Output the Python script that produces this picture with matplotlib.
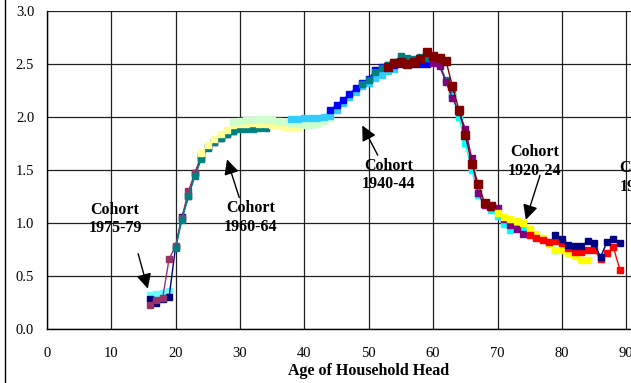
import matplotlib
matplotlib.use("Agg")
import matplotlib.pyplot as plt
from matplotlib.lines import Line2D
from matplotlib.ticker import FormatStrFormatter

plt.rcParams['font.family'] = ['Liberation Serif', 'DejaVu Serif']

# household size by age of head, one series per birth cohort
ages_a = list(range(16, 20))
vals_a = [0.32, 0.33, 0.34, 0.36]

ages_b = list(range(16, 30))
vals_b = [0.28, 0.25, 0.28, 0.30, 0.77, 1.06, 1.25, 1.47, 1.61, 1.72, 1.76, 1.80, 1.84, 1.87]

ages_c = list(range(16, 25))
vals_c = [0.23, 0.27, 0.29, 0.66, 0.78, 1.05, 1.30, 1.47, 1.64]

ages_d = list(range(20, 35))
vals_d = [0.76, 1.03, 1.25, 1.44, 1.60, 1.71, 1.76, 1.80, 1.84, 1.87, 1.89, 1.89, 1.89, 1.90, 1.90]

ages_e = list(range(24, 40))
vals_e = [1.66, 1.74, 1.79, 1.84, 1.88, 1.92, 1.93, 1.93, 1.94, 1.93, 1.93, 1.92, 1.92, 1.91, 1.90, 1.90]

ages_f = list(range(29, 45))
vals_f = [1.95, 1.96, 1.97, 1.97, 1.98, 1.98, 1.97, 1.96, 1.95, 1.94, 1.93, 1.92, 1.92, 1.93, 1.96, 1.99]

ages_g = list(range(38, 55))
vals_g = [1.98, 1.98, 1.99, 1.99, 1.99, 2.00, 2.01, 2.07, 2.13, 2.19, 2.24, 2.29, 2.32, 2.37, 2.40, 2.43, 2.45]

ages_h = list(range(44, 60))
vals_h = [2.07, 2.11, 2.16, 2.22, 2.27, 2.32, 2.36, 2.44, 2.47, 2.49, 2.49, 2.50, 2.50, 2.50, 2.50, 2.50]

ages_i = list(range(49, 65))
vals_i = [2.31, 2.35, 2.42, 2.46, 2.49, 2.52, 2.58, 2.56, 2.55, 2.57, 2.56, 2.54, 2.50, 2.35, 2.22, 2.01]

ages_j = list(range(63, 80))
vals_j = [2.20, 2.00, 1.75, 1.50, 1.26, 1.17, 1.12, 1.07, 0.99, 0.93, 0.98, 0.95, 0.90, 0.88, 0.85, 0.81, 0.75]

ages_k = list(range(60, 75))
vals_k = [2.51, 2.48, 2.33, 2.18, 2.05, 1.89, 1.61, 1.28, 1.17, 1.15, 1.14, 1.04, 0.98, 0.94, 0.90]

ages_l = list(range(53, 70))
vals_l = [2.47, 2.51, 2.52, 2.50, 2.52, 2.55, 2.61, 2.58, 2.56, 2.53, 2.29, 2.07, 1.83, 1.56, 1.37, 1.19, 1.16]

ages_m = list(range(70, 85))
vals_m = [1.09, 1.06, 1.04, 1.02, 1.00, 0.94, 0.90, 0.86, 0.80, 0.75, 0.75, 0.72, 0.69, 0.65, 0.65]

ages_n = list(range(75, 90))
vals_n = [0.89, 0.86, 0.84, 0.82, 0.83, 0.81, 0.76, 0.73, 0.73, 0.75, 0.75, 0.66, 0.72, 0.77, 0.56]

ages_o = list(range(79, 90))
vals_o = [0.89, 0.85, 0.79, 0.78, 0.78, 0.83, 0.81, 0.68, 0.82, 0.85, 0.81]

series = [
    (ages_a, vals_a, '#66FFFF', 4.0),
    (ages_b, vals_b, '#000080', 4.0),
    (ages_c, vals_c, '#993366', 4.0),
    (ages_d, vals_d, '#008080', 4.0),
    (ages_e, vals_e, '#FFFF99', 4.0),
    (ages_f, vals_f, '#CCFFCC', 4.0),
    (ages_g, vals_g, '#33CCFF', 4.0),
    (ages_h, vals_h, '#0000FF', 4.0),
    (ages_i, vals_i, '#008080', 4.5),
    (ages_j, vals_j, '#00FFFF', 4.0),
    (ages_k, vals_k, '#800080', 4.0),
    (ages_l, vals_l, '#800000', 5.5),
    (ages_m, vals_m, '#FFFF00', 4.0),
    (ages_n, vals_n, '#FF0000', 4.0),
    (ages_o, vals_o, '#000080', 4.0),
]

fig = plt.figure(figsize=(6.31, 3.83), dpi=100)
ax = fig.add_axes([46.7 / 631, 54 / 383, 644 / 631, 318 / 383])

for x, y, c, ms in series:
    ax.plot(x, y, color=c, lw=1.0, marker='s', ms=ms, mec=c, mfc=c)

ax.set_xlim(0, 100)
ax.set_ylim(0, 3.0)
ax.set_xticks(range(0, 101, 10))
ax.set_yticks([0, 0.5, 1.0, 1.5, 2.0, 2.5, 3.0])
ax.yaxis.set_major_formatter(FormatStrFormatter('%.1f'))
ax.grid(True, color='#202020', lw=0.9)
ax.set_axisbelow(True)
ax.tick_params(length=0, labelsize=10.5)
ax.tick_params(axis='x', pad=13)
ax.tick_params(axis='y', pad=9)
for s in ['top', 'right']:
    ax.spines[s].set_visible(False)
for s in ['left', 'bottom']:
    ax.spines[s].set_color('black')
    ax.spines[s].set_linewidth(1.0)

ax.set_xlabel('Age of Household Head', fontsize=11.5, fontweight='bold', labelpad=2)

arrow = dict(arrowstyle='-|>,head_length=0.9,head_width=0.45', color='black', lw=1.0,
             shrinkA=0, shrinkB=0)
labels = [
    ('Cohort\n1975-79', (10.6, 1.04), (14.2, 0.71), (15.7, 0.38)),
    ('Cohort\n1960-64', (31.6, 1.05), (29.9, 1.24), (28.0, 1.60)),
    ('Cohort\n1940-44', (53.1, 1.45), (51.4, 1.64), (49.0, 1.92)),
    ('Cohort\n1920-24', (75.8, 1.58), (76.6, 1.45), (74.4, 1.03)),
]
for txt, pos, tail, tip in labels:
    ax.text(pos[0], pos[1], txt, ha='center', va='center', fontsize=11.5,
            fontweight='bold', linespacing=1.2)
    ax.annotate('', xy=tip, xytext=tail, arrowprops=arrow)

# next cohort label runs past the right edge of the figure
ax.text(88.9, 1.43, 'Cohort\n1910-14', ha='left', va='center', fontsize=11.5,
        fontweight='bold', linespacing=1.2)

fig.add_artist(Line2D([5 / 631, 5 / 631], [0, 1], color='black', lw=1.0))

fig.savefig('out.png', dpi=100)
